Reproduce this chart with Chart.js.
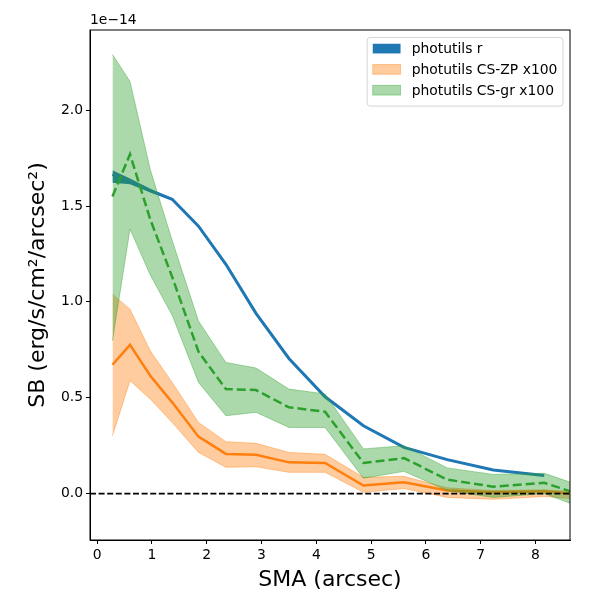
<!DOCTYPE html>
<html lang="en">
<head>
  <meta charset="UTF-8" />
  <title>SB profile</title>
  <script src="https://cdn.jsdelivr.net/npm/chart.js"></script>
  <style>
    * { box-sizing: border-box; margin: 0; padding: 0; }
    body { background: #fff; width: 600px; height: 600px; overflow: hidden; }
    canvas { display: block; }
  </style>
</head>
<body>
  <canvas id="sbChart" width="600" height="600"></canvas>

  <script>
    // SMA (arcsec); CS series have one extra ring beyond the x limit
    const sma   = [0.28, 0.60, 0.97, 1.37, 1.85, 2.35, 2.90, 3.50, 4.16, 4.86, 5.60, 6.39, 7.23, 8.16];
    const smaCS = [0.28, 0.60, 0.97, 1.37, 1.85, 2.35, 2.90, 3.50, 4.16, 4.86, 5.60, 6.39, 7.23, 8.16, 9.15];

    // values in units of 1e-14 erg/s/cm2/arcsec2
    const rMid = [1.665, 1.630, 1.580, 1.535, 1.395, 1.196, 0.940, 0.705, 0.505, 0.354, 0.241, 0.177, 0.123, 0.094];
    const rHi  = [1.686, 1.644, 1.590, 1.540, 1.400, 1.200, 0.944, 0.708, 0.507, 0.356, 0.243, 0.178, 0.124, 0.095];
    const rLo  = [1.621, 1.613, 1.570, 1.530, 1.390, 1.192, 0.936, 0.702, 0.503, 0.352, 0.239, 0.176, 0.122, 0.093];

    const zpMid = [0.672, 0.776, 0.615, 0.476, 0.297, 0.207, 0.203, 0.163, 0.160, 0.042, 0.059, 0.016, 0.007, 0.012, -0.013];
    const zpHi  = [1.040, 0.962, 0.745, 0.580, 0.371, 0.271, 0.262, 0.215, 0.205, 0.085, 0.090, 0.030, 0.016, 0.020, 0.003];
    const zpLo  = [0.302, 0.589, 0.493, 0.371, 0.215, 0.137, 0.140, 0.111, 0.111, 0.007, 0.026, -0.020, -0.030, -0.015, -0.036];

    const grMid = [1.550, 1.770, 1.430, 1.130, 0.740, 0.545, 0.540, 0.450, 0.427, 0.160, 0.185, 0.073, 0.036, 0.056, -0.036];
    const grHi  = [2.290, 2.150, 1.690, 1.320, 0.900, 0.684, 0.655, 0.545, 0.520, 0.233, 0.250, 0.134, 0.100, 0.106, 0.009];
    const grLo  = [0.797, 1.380, 1.140, 0.930, 0.580, 0.406, 0.424, 0.345, 0.345, 0.080, 0.116, 0.016, -0.020, 0.000, -0.105];

    const legendNames = ['photutils r', 'photutils CS-ZP x100', 'photutils CS-gr x100'];
    const yTicks = [0.0, 0.5, 1.0, 1.5, 2.0];

    const FONT = "'DejaVu Sans', sans-serif";

    function pts(xs, ys) {
      return xs.map((x, i) => ({ x: x, y: ys[i] }));
    }

    const hidden = { borderWidth: 0, pointRadius: 0, fill: false };

    // box around the axes, dashed zero line, offset text and legend
    const decorations = {
      id: 'decorations',
      afterDatasetsDraw(chart) {
        const { ctx, chartArea: a, scales } = chart;
        const y0 = scales.y.getPixelForValue(0);

        ctx.save();
        ctx.beginPath();
        ctx.rect(a.left, a.top, a.right - a.left, a.bottom - a.top);
        ctx.clip();
        ctx.strokeStyle = '#000';
        ctx.lineWidth = 1.8;
        ctx.setLineDash([6, 2.6]);
        ctx.beginPath();
        ctx.moveTo(a.left, y0);
        ctx.lineTo(a.right, y0);
        ctx.stroke();
        ctx.restore();

        ctx.save();
        ctx.strokeStyle = '#000';
        ctx.lineWidth = 1;
        ctx.strokeRect(a.left, a.top, a.right - a.left, a.bottom - a.top);

        ctx.fillStyle = '#000';
        ctx.font = '13.9px ' + FONT;
        ctx.textAlign = 'left';
        ctx.textBaseline = 'alphabetic';
        ctx.fillText('1e\u221214', a.left, a.top - 6);

        // legend
        const items = chart.data.datasets.filter(d => d.legendIndex !== undefined);
        ctx.font = '13.9px ' + FONT;
        const textW = Math.max(...items.map(d => ctx.measureText(legendNames[d.legendIndex]).width));
        const pad = 5.6, handleW = 27.8, handleH = 9.7, gap = 11.1, rowH = 20.8;
        const w = pad * 2 + handleW + gap + textW;
        const h = pad * 2 + rowH * items.length - 5;
        const left = a.right - 7 - w;
        const top = a.top + 7.5;

        ctx.fillStyle = 'rgba(255,255,255,0.8)';
        ctx.strokeStyle = '#d6d6d6';
        ctx.lineWidth = 1;
        ctx.beginPath();
        ctx.roundRect(left, top, w, h, 3);
        ctx.fill();
        ctx.stroke();

        items.forEach((d, i) => {
          const cy = top + pad + 5.5 + i * rowH;
          ctx.fillStyle = d.backgroundColor;
          ctx.fillRect(left + pad, cy - handleH / 2, handleW, handleH);
          if (d.legendEdge) {
            ctx.strokeStyle = d.legendEdge;
            ctx.lineWidth = 1;
            ctx.strokeRect(left + pad, cy - handleH / 2, handleW, handleH);
          }
          ctx.fillStyle = '#000';
          ctx.textBaseline = 'middle';
          ctx.fillText(legendNames[d.legendIndex], left + pad + handleW + gap, cy + 1);
        });
        ctx.restore();
      }
    };

    new Chart(document.getElementById('sbChart'), {
      type: 'line',
      data: {
        datasets: [
          // photutils r
          { data: pts(sma, rHi), fill: 1, backgroundColor: '#1f77b4', borderWidth: 0, pointRadius: 0, order: 10, legendIndex: 0 },
          { data: pts(sma, rLo), ...hidden, order: 10 },
          { data: pts(sma, rMid), borderColor: '#1f77b4', borderWidth: 3, pointRadius: 0, fill: false, order: 9 },
          // CS-ZP x100
          { data: pts(smaCS, zpHi), fill: 4, backgroundColor: 'rgba(255,127,14,0.4)', borderColor: 'rgba(255,127,14,0.4)', borderWidth: 1, pointRadius: 0, order: 8, legendIndex: 1, legendEdge: 'rgba(255,127,14,0.4)' },
          { data: pts(smaCS, zpLo), borderColor: 'rgba(255,127,14,0.4)', borderWidth: 1, pointRadius: 0, fill: false, order: 8 },
          { data: pts(smaCS, zpMid), borderColor: '#ff7f0e', borderWidth: 2.5, pointRadius: 0, fill: false, order: 7 },
          // CS-gr x100
          { data: pts(smaCS, grHi), fill: 7, backgroundColor: 'rgba(44,160,44,0.4)', borderColor: 'rgba(44,160,44,0.4)', borderWidth: 1, pointRadius: 0, order: 6, legendIndex: 2, legendEdge: 'rgba(44,160,44,0.4)' },
          { data: pts(smaCS, grLo), borderColor: 'rgba(44,160,44,0.4)', borderWidth: 1, pointRadius: 0, fill: false, order: 6 },
          { data: pts(smaCS, grMid), borderColor: '#2ca02c', borderWidth: 2.5, borderDash: [9, 4], pointRadius: 0, fill: false, order: 5 }
        ]
      },
      options: {
        responsive: false,
        animation: false,
        devicePixelRatio: 1,
        layout: { padding: { top: 30, right: 30, left: 0, bottom: 0 } },
        elements: { line: { tension: 0 } },
        plugins: {
          legend: { display: false },
          tooltip: { enabled: false }
        },
        scales: {
          x: {
            type: 'linear',
            min: -0.13,
            max: 8.63,
            afterFit: s => { s.height = 60; },
            grid: { drawOnChartArea: false, drawTicks: true, tickLength: 4, color: '#000' },
            border: { display: true, color: '#000', width: 1 },
            ticks: {
              stepSize: 1,
              includeBounds: false,
              padding: 3,
              color: '#000',
              font: { family: FONT, size: 13.9 },
              maxRotation: 0,
              callback: v => String(v)
            },
            title: {
              display: true,
              text: 'SMA (arcsec)',
              color: '#000',
              font: { family: FONT, size: 22 },
              padding: { top: 0, bottom: 7 }
            }
          },
          y: {
            type: 'linear',
            min: -0.242,
            max: 2.418,
            afterFit: s => { s.width = 90; },
            afterBuildTicks: s => { s.ticks = yTicks.map(v => ({ value: v })); },
            grid: { drawOnChartArea: false, drawTicks: true, tickLength: 4, color: '#000' },
            border: { display: true, color: '#000', width: 1 },
            ticks: {
              padding: 3,
              color: '#000',
              font: { family: FONT, size: 13.9 },
              callback: v => v.toFixed(1)
            },
            title: {
              display: true,
              text: 'SB (erg/s/cm\u00b2/arcsec\u00b2)',
              color: '#000',
              font: { family: FONT, size: 22 },
              padding: { top: 25, bottom: 0 }
            }
          }
        }
      },
      plugins: [decorations]
    });
  </script>
</body>
</html>
